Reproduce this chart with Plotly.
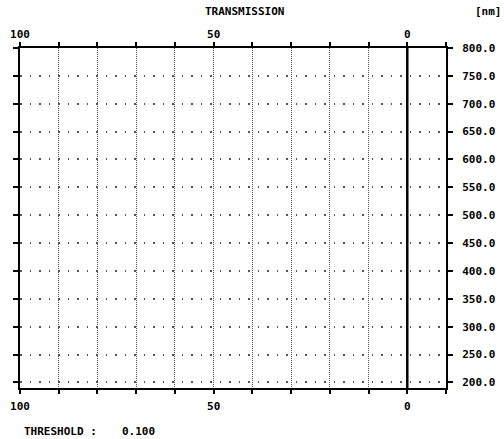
import plotly.graph_objects as go

# data
wavelength_nm = [190, 800]
transmission = [0, 0]

x_ticks = [100, 90, 80, 70, 60, 50, 40, 30, 20, 10, 0, -10]
x_labels = ["100", "", "", "", "", "50", "", "", "", "", "0", ""]
y_ticks = [200, 250, 300, 350, 400, 450, 500, 550, 600, 650, 700, 750, 800]

FONT = dict(family="DejaVu Sans Mono", size=11, color="black", weight="bold")

fig = go.Figure()
fig.add_trace(go.Scatter(x=transmission, y=wavelength_nm, mode="lines",
                         line=dict(color="black", width=2.5),
                         showlegend=False, hoverinfo="skip"))
fig.add_trace(go.Scatter(x=transmission, y=wavelength_nm, xaxis="x2", mode="lines",
                         line=dict(width=0), opacity=0,
                         showlegend=False, hoverinfo="skip"))

fig.update_layout(
    width=504, height=439,
    margin=dict(l=20, r=58, t=48, b=51, autoexpand=False),
    paper_bgcolor="white", plot_bgcolor="white",
    font=FONT,
    xaxis=dict(range=[100, -10], tickmode="array", tickvals=x_ticks, ticktext=x_labels,
               ticks="outside", ticklen=4, tickwidth=1.5, tickcolor="black",
               showline=True, linecolor="black", linewidth=2, mirror="allticks",
               showgrid=True, gridcolor="#555", gridwidth=1, griddash="1px,1px",
               zeroline=False, tickfont=FONT, ticklabelstandoff=3, automargin=False),
    xaxis2=dict(range=[100, -10], overlaying="x", side="top", matches="x",
                tickmode="array", tickvals=[100, 50, 0], ticks="", showgrid=False,
                showline=False, zeroline=False, tickfont=FONT, ticklabelstandoff=7,
                automargin=False),
    yaxis=dict(range=[190, 800], side="right", tickmode="array", tickvals=y_ticks,
               tickformat=".1f", ticks="outside", ticklen=5, tickwidth=1.5, tickcolor="black",
               showline=True, linecolor="black", linewidth=2, mirror="allticks",
               showgrid=True, gridcolor="#555", gridwidth=1.5, griddash="1.5px,8px",
               zeroline=False, tickfont=FONT, ticklabelstandoff=7, automargin=False),
    annotations=[
        dict(text="TRANSMISSION", x=0.528, y=1.106, xref="paper", yref="paper",
             showarrow=False, font=FONT, xanchor="center", yanchor="middle"),
        dict(text="[nm]", x=1.099, y=1.106, xref="paper", yref="paper",
             showarrow=False, font=FONT, xanchor="center", yanchor="middle"),
        dict(text="THRESHOLD :", x=0.005, y=-0.129, xref="paper", yref="paper",
             showarrow=False, font=FONT, xanchor="left", yanchor="middle"),
        dict(text="0.100", x=0.235, y=-0.129, xref="paper", yref="paper",
             showarrow=False, font=FONT, xanchor="left", yanchor="middle"),
    ],
)

# remove the browser's default 8px body margin so the figure fills the window exactly
fig.write_html("out.html", config={"displayModeBar": False},
               post_script="document.body.style.margin='0';")
